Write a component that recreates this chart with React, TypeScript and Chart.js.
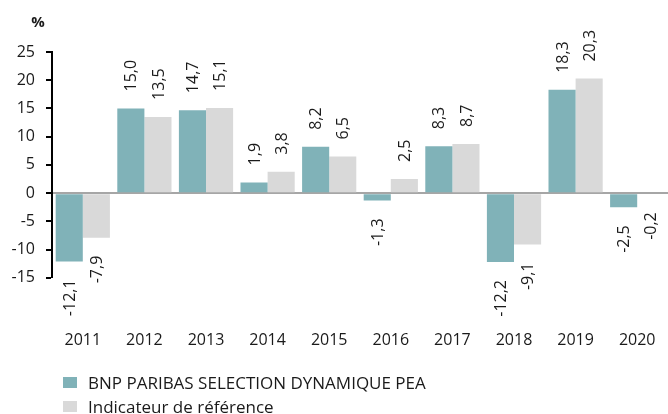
import React, { useEffect, useRef } from "react";
import { Chart, registerables } from "chart.js";

Chart.register(...registerables);

const categories = ["2011", "2012", "2013", "2014", "2015", "2016", "2017", "2018", "2019", "2020"];
const fundLabel = "BNP PARIBAS SELECTION DYNAMIQUE PEA";
const benchLabel = "Indicateur de référence";
const fundValues = [-12.1, 15.0, 14.7, 1.9, 8.2, -1.3, 8.3, -12.2, 18.3, -2.5];
const benchValues = [-7.9, 13.5, 15.1, 3.8, 6.5, 2.5, 8.7, -9.1, 20.3, -0.2];
const yMin = -15;
const yMax = 25;
const yStep = 5;
const unitLabel = "%";

const FONT = "'Open Sans', sans-serif";
const TEXT = "#1a1a1a";
const TEAL = "#80b2b8";
const GREY = "#d9d9d9";

const fmt = (v: number) => v.toFixed(1).replace(".", ",");

const labelsPlugin = {
  id: "customLabels",
  afterDatasetsDraw(chart: any) {
    const ctx = chart.ctx;
    ctx.save();
    ctx.font = `16px ${FONT}`;
    ctx.fillStyle = TEXT;
    ctx.textBaseline = "middle";
    chart.data.datasets.forEach((ds: any, di: number) => {
      const meta = chart.getDatasetMeta(di);
      meta.data.forEach((el: any, i: number) => {
        const v = ds.data[i];
        ctx.save();
        ctx.translate(el.x, el.y);
        ctx.rotate(-Math.PI / 2);
        if (v >= 0) {
          ctx.textAlign = "left";
          ctx.fillText(fmt(v), 17, 1);
        } else {
          ctx.textAlign = "right";
          ctx.fillText(fmt(v), -18, 1);
        }
        ctx.restore();
      });
    });
    ctx.restore();
  },
  afterDraw(chart: any) {
    const ctx = chart.ctx;
    const area = chart.chartArea;
    ctx.save();
    ctx.font = `bold 15px ${FONT}`;
    ctx.fillStyle = TEXT;
    ctx.textAlign = "center";
    ctx.textBaseline = "middle";
    ctx.fillText(unitLabel, area.left - 14, area.top - 29);
    ctx.font = `17px ${FONT}`;
    ctx.textAlign = "left";
    const x0 = 63;
    const y0 = chart.height - 31;
    chart.data.datasets.forEach((ds: any, i: number) => {
      const y = y0 + i * 24;
      ctx.fillStyle = ds.backgroundColor;
      ctx.fillRect(x0, y - 6, 14, 11);
      ctx.fillStyle = TEXT;
      ctx.fillText(ds.label, x0 + 25, y + 1);
    });
    ctx.restore();
  },
};

export default function App() {
  const ref = useRef<HTMLCanvasElement | null>(null);

  useEffect(() => {
    document.body.style.margin = "0";
    const canvas = ref.current;
    if (!canvas) return;
    const chart = new Chart(canvas, {
      type: "bar",
      data: {
        labels: categories,
        datasets: [
          {
            label: fundLabel,
            data: fundValues,
            backgroundColor: TEAL,
            borderWidth: 0,
            categoryPercentage: 0.88,
            barPercentage: 1.0,
          },
          {
            label: benchLabel,
            data: benchValues,
            backgroundColor: GREY,
            borderWidth: 0,
            categoryPercentage: 0.88,
            barPercentage: 1.0,
          },
        ],
      },
      options: {
        animation: false,
        responsive: false,
        maintainAspectRatio: false,
        layout: { padding: { top: 52, right: 0, bottom: 64, left: 0 } },
        plugins: {
          legend: { display: false },
          tooltip: { enabled: false },
        },
        scales: {
          x: {
            grid: { display: false, drawTicks: true, tickLength: 53 },
            border: { display: false },
            ticks: {
              padding: 0,
              color: TEXT,
              font: { family: FONT, size: 16 },
              maxRotation: 0,
              autoSkip: false,
            },
          },
          y: {
            min: yMin,
            max: yMax,
            afterFit: (scale: any) => {
              scale.width = 52;
            },
            ticks: {
              stepSize: yStep,
              padding: 11,
              autoSkip: false,
              color: TEXT,
              font: { family: FONT, size: 16 },
              callback: (v: any) => String(v),
            },
            grid: {
              drawOnChartArea: true,
              color: (c: any) => (c.tick && c.tick.value === 0 ? "#a6a6a6" : "rgba(0,0,0,0)"),
              lineWidth: (c: any) => (c.tick && c.tick.value === 0 ? 2 : 0),
              tickColor: "#000",
              tickLength: 6,
              tickWidth: 2,
            },
            border: { display: true, color: "#000", width: 2 },
          },
        },
      },
      plugins: [labelsPlugin],
    });
    return () => chart.destroy();
  }, []);

  return (
    <div style={{ width: 668, height: 414 }}>
      <canvas ref={ref} width={668} height={414} style={{ display: "block" }} />
    </div>
  );
}
